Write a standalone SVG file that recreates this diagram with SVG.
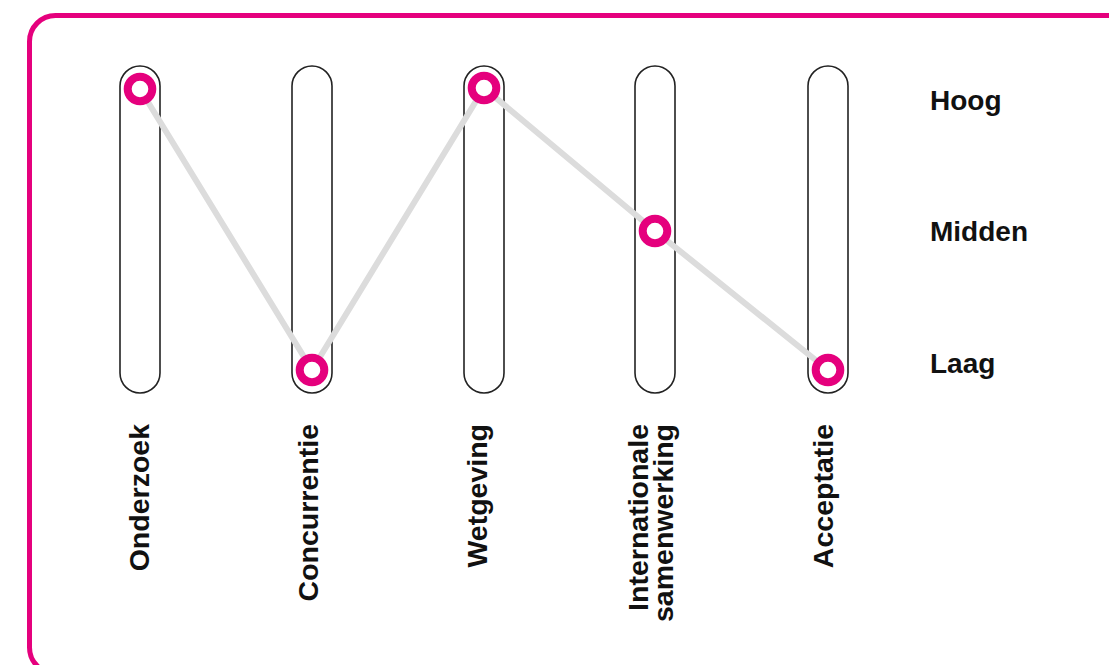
<svg xmlns="http://www.w3.org/2000/svg" width="1109" height="665" viewBox="0 0 1109 665">
<style>
.frame{fill:none;stroke:#e5007d;stroke-width:5}
.pill{fill:none;stroke:#222;stroke-width:1.6}
.dot{fill:#fff;stroke:#e5007d;stroke-width:8}
.conn{fill:none;stroke:#dcdcdc;stroke-width:6;stroke-linejoin:round}
.lbl{font-family:"Liberation Sans",Arial,sans-serif;font-weight:bold;font-size:28.5px;fill:#111}
.lvl{font-family:"Liberation Sans",Arial,sans-serif;font-weight:bold;font-size:28px;fill:#111}
</style>
<rect width="1109" height="665" fill="#fff"/>
<rect class="frame" x="29.5" y="15.5" width="1120" height="658" rx="26"/>
<g id="pills">
<rect class="pill" x="120" y="66" width="40" height="327" rx="20"/>
<rect class="pill" x="292" y="66" width="40" height="327" rx="20"/>
<rect class="pill" x="464" y="66" width="40" height="327" rx="20"/>
<rect class="pill" x="635" y="66" width="40" height="327" rx="20"/>
<rect class="pill" x="808" y="66" width="40" height="327" rx="20"/>
</g>
<g id="connectors">
<polyline class="conn" points="140,89 312,370 484,88 655,231 828,370"/>
</g>
<g id="onderzoek">
<circle class="dot" cx="140" cy="89" r="12.3"/>
<text class="lbl" text-anchor="end" transform="translate(149,424) rotate(-90)">Onderzoek</text>
</g>
<g id="concurrentie">
<circle class="dot" cx="312" cy="370" r="12.3"/>
<text class="lbl" text-anchor="end" transform="translate(318,424) rotate(-90)">Concurrentie</text>
</g>
<g id="wetgeving">
<circle class="dot" cx="484" cy="88" r="12.3"/>
<text class="lbl" text-anchor="end" transform="translate(487,424) rotate(-90)">Wetgeving</text>
</g>
<g id="internationale-samenwerking">
<circle class="dot" cx="655" cy="231" r="12.3"/>
<text class="lbl" text-anchor="end" transform="translate(648,424) rotate(-90)">Internationale</text>
<text class="lbl" text-anchor="end" transform="translate(673,424) rotate(-90)">samenwerking</text>
</g>
<g id="acceptatie">
<circle class="dot" cx="828" cy="370" r="12.3"/>
<text class="lbl" text-anchor="end" transform="translate(833,424) rotate(-90)">Acceptatie</text>
</g>
<g id="levels">
<text class="lvl" x="930" y="110">Hoog</text>
<text class="lvl" x="930" y="241">Midden</text>
<text class="lvl" x="930" y="373">Laag</text>
</g>
</svg>
